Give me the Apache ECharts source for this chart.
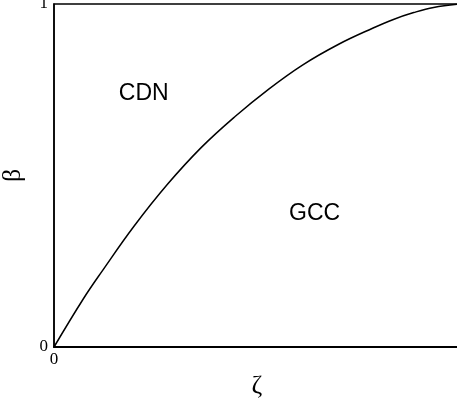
<!DOCTYPE html>
<html>
<head>
<meta charset="utf-8">
<script src="https://cdn.jsdelivr.net/npm/echarts@6/dist/echarts.min.js"></script>
<style>
html, body { margin: 0; padding: 0; background: #fff; }
#chart { width: 457px; height: 402px; }
</style>
</head>
<body>
<div id="chart"></div>
<script>
// boundary curve between the two regions
var zeta = [0, 0.072, 0.119, 0.197, 0.280, 0.363, 0.446, 0.529, 0.612, 0.700, 0.786, 0.836, 0.886, 0.935, 1.0];
var beta = [0, 0.140, 0.222, 0.352, 0.475, 0.582, 0.672, 0.752, 0.822, 0.882, 0.930, 0.955, 0.975, 0.990, 1.0];
var regionNames = ['CDN', 'GCC'];
var regionX = [0.221, 0.642];
var regionY = [0.738, 0.388];

var curve = zeta.map(function (z, i) { return [z, beta[i]]; });
var regions = regionNames.map(function (n, i) { return { name: n, value: [regionX[i], regionY[i]] }; });

var serif = 'Liberation Serif';
var myChart = echarts.init(document.getElementById('chart'));
var option = {
    animation: false,
    grid: {
        left: 54,
        right: -3,
        top: 4,
        bottom: 55,
        outerBoundsMode: 'none',
        containLabel: false,
        show: true,
        borderColor: '#000',
        borderWidth: 1.5
    },
    xAxis: {
        type: 'value',
        min: 0,
        max: 1,
        interval: 1,
        name: 'ζ',
        nameLocation: 'middle',
        nameGap: 18,
        nameTextStyle: { fontFamily: serif, fontSize: 26, color: '#000' },
        axisLine: { lineStyle: { color: '#000', width: 2 } },
        axisTick: { show: false },
        splitLine: { show: false },
        axisLabel: { fontFamily: serif, fontSize: 17, color: '#000', margin: 4, showMinLabel: true, showMaxLabel: true, hideOverlap: false }
    },
    yAxis: {
        type: 'value',
        min: 0,
        max: 1,
        interval: 1,
        name: 'β',
        nameLocation: 'middle',
        nameGap: 28,
        nameTextStyle: { fontFamily: serif, fontSize: 26, color: '#000' },
        axisLine: { lineStyle: { color: '#000', width: 1.5 } },
        axisTick: { show: false },
        splitLine: { show: false },
        axisLabel: { fontFamily: serif, fontSize: 17, color: '#000', margin: 6, showMinLabel: true, showMaxLabel: true, hideOverlap: false }
    },
    series: [{
            type: 'line',
            data: curve,
            smooth: 0.4,
            showSymbol: false,
            lineStyle: { color: '#000', width: 1.5 }
        },
        {
            type: 'scatter',
            data: regions,
            symbolSize: 0,
            label: {
                show: true,
                position: 'inside',
                formatter: '{b}',
                fontFamily: 'Liberation Sans',
                fontSize: 23,
                color: '#000',
                opacity: 1
            }
        }
    ]
};
myChart.setOption(option);
</script>
</body>
</html>
